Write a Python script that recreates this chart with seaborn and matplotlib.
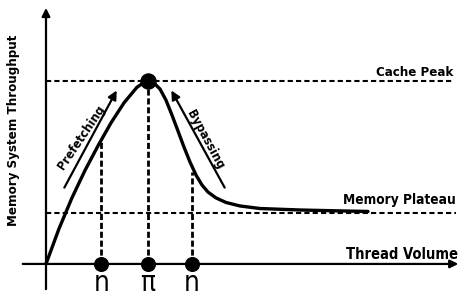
import matplotlib
matplotlib.use("Agg")
import matplotlib.pyplot as plt
from matplotlib.patches import Rectangle
import seaborn as sns

# throughput curve (peak normalised to 1)
curve_x = [0, 0.127, 0.255, 0.382, 0.510, 0.637, 0.765, 0.892, 0.951, 1.0,
           1.059, 1.118, 1.176, 1.235, 1.294, 1.353, 1.412, 1.471, 1.529, 1.588,
           1.667, 1.765, 1.902, 2.098, 2.490, 2.882, 3.157]
curve_y = [0, 0.192, 0.362, 0.511, 0.646, 0.771, 0.881, 0.966, 0.988, 1.0,
           0.989, 0.956, 0.896, 0.814, 0.727, 0.639, 0.557, 0.486, 0.432, 0.393,
           0.361, 0.336, 0.317, 0.303, 0.295, 0.290, 0.287]

cache_peak = 1.0
memory_plateau = 0.279

# points on thread axis and where their dashed guides meet the curve
mark_x = [0.544, 1.0, 1.43]
mark_top = [0.667, 1.0, 0.50]
mark_labels = ["n", "π", "n"]

sns.set_style("white")
plt.rcParams["font.family"] = ["DejaVu Sans"]

fig = plt.figure(figsize=(4.66, 3.04), dpi=100)
ax = fig.add_axes([0, 0, 1, 1])
ax.set_xlim(-0.451, 4.118)
ax.set_ylim(-0.219, 1.443)
ax.axis("off")

# reference levels
ax.plot([0, 3.99], [cache_peak, cache_peak], color="black", lw=1.5, ls=(0, (2.5, 1.5)))
ax.plot([0, 4.02], [memory_plateau, memory_plateau], color="black", lw=1.5, ls=(0, (2.5, 1.5)))
for x, top in zip(mark_x, mark_top):
    ax.plot([x, x], [0, top], color="black", lw=2.0, ls=(0, (2.2, 1.0)))

# the throughput curve
sns.lineplot(x=curve_x, y=curve_y, sort=False, color="black", lw=2.4, ax=ax,
             solid_joinstyle="round", solid_capstyle="round")

# axes with arrows
ax.annotate("", xy=(0, 1.415), xytext=(0, -0.153),
            arrowprops=dict(arrowstyle="-|>", color="black", lw=1.6, mutation_scale=12))
ax.annotate("", xy=(4.07, 0), xytext=(-0.255, 0),
            arrowprops=dict(arrowstyle="-|>", color="black", lw=1.6, mutation_scale=12))

# markers
sns.scatterplot(x=mark_x, y=[0, 0, 0], s=100, color="black", edgecolor="black", zorder=5, ax=ax)
sns.scatterplot(x=[1.0], y=[cache_peak], s=120, color="black", edgecolor="black", zorder=5, ax=ax)

clip = Rectangle((-1, -0.158), 10, 3, transform=ax.transData)
for x, lab in zip(mark_x, mark_labels):
    t = ax.text(x, -0.03, lab, ha="center", va="top", fontsize=20,
                fontstretch="condensed", color="black")
    t.set_clip_path(clip)

# trend arrows
ax.annotate("", xy=(0.706, 0.962), xytext=(0.167, 0.404),
            arrowprops=dict(arrowstyle="-|>", color="black", lw=1.6, mutation_scale=13))
ax.annotate("", xy=(1.216, 0.962), xytext=(1.765, 0.404),
            arrowprops=dict(arrowstyle="-|>", color="black", lw=1.6, mutation_scale=13))

bold = dict(fontweight="bold", fontstretch="condensed", color="black")
ax.text(0.343, 0.694, "Prefetching", rotation=56, ha="center", va="center",
        rotation_mode="anchor", fontsize=9, **bold)
ax.text(1.559, 0.678, "Bypassing", rotation=-61.5, ha="center", va="center",
        rotation_mode="anchor", fontsize=9, **bold)

ax.text(3.99, 1.012, "Cache Peak", ha="right", va="bottom", fontsize=9.5, **bold)
ax.text(4.02, 0.328, "Memory Plateau", ha="right", va="baseline", fontsize=9.8, **bold)
ax.text(4.04, 0.027, "Thread Volume", ha="right", va="baseline", fontsize=10.5, **bold)
ax.text(-0.314, 0.732, "Memory System Throughput", rotation=90, ha="center", va="center",
        fontsize=9.5, **bold)

fig.savefig("out.png", dpi=100)
